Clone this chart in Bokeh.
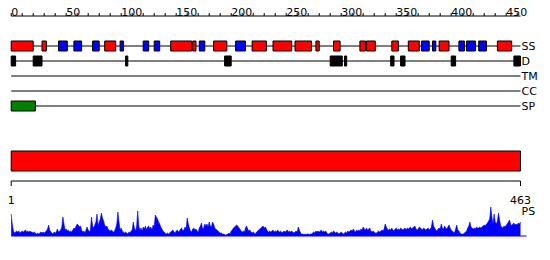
from bokeh.plotting import figure
from bokeh.models import Range1d
from bokeh.core.properties import value
from bokeh.embed import file_html
from bokeh.resources import INLINE

# ---------------- data ----------------
seq_length = 463
ruler_ticks = list(range(0, 461, 10))
ruler_label_pos = [0, 50, 100, 150, 200, 250, 300, 350, 400, 450]
ruler_labels = ["0", "50", "100", "150", "200", "250", "300", "350", "400", "450"]

track_names = ["SS", "D", "TM", "CC", "SP"]

helix_start = [0, 28, 85, 145, 165, 184, 219, 238, 258, 277, 293, 317, 323, 346, 361, 389, 442]
helix_end = [20, 32, 95, 164, 168, 196, 232, 255, 273, 280, 299, 322, 331, 352, 371, 398, 455]
strand_start = [43, 57, 74, 99, 120, 130, 171, 204, 373, 383, 407, 414, 425]
strand_end = [51, 64, 80, 102, 125, 135, 176, 213, 380, 386, 412, 422, 432]

disorder_start = [0, 20, 104, 194, 290, 303, 345, 354, 400, 457]
disorder_end = [4, 28, 106, 200, 301, 305, 348, 358, 404, 463]

signal_start = [0]
signal_end = [22]

domain_start = [0]
domain_end = [463]

ends_labels = ["1", "463"]
ends_pos = [0, 463]

# PS profile, one value per residue (0..463)
ps_val = [
    22, 12, 5, 3, 4, 5, 4, 5, 3, 4, 5, 4, 5, 6, 4, 5, 4, 5, 4, 4,
    3, 4, 3, 2, 3, 2, 3, 4, 3, 4, 3, 4, 5, 7, 11, 6, 4, 3, 2, 4,
    3, 4, 7, 4, 5, 6, 9, 19, 12, 6, 7, 5, 6, 4, 5, 4, 6, 8, 7, 10,
    12, 11, 9, 10, 6, 4, 5, 3, 6, 9, 6, 4, 6, 19, 10, 8, 11, 14, 22, 10,
    14, 17, 23, 18, 15, 11, 9, 10, 7, 6, 5, 6, 5, 4, 5, 8, 12, 24, 14, 6,
    8, 5, 4, 3, 4, 3, 2, 4, 3, 5, 6, 14, 8, 5, 9, 25, 10, 6, 8, 5,
    9, 7, 10, 6, 9, 10, 7, 9, 6, 11, 9, 21, 19, 17, 14, 12, 9, 7, 5, 4,
    3, 2, 3, 2, 3, 4, 5, 6, 4, 3, 5, 6, 4, 5, 7, 8, 5, 6, 9, 7,
    18, 12, 8, 5, 4, 7, 8, 6, 7, 5, 4, 8, 10, 13, 7, 8, 12, 10, 12, 9,
    14, 10, 9, 14, 12, 8, 7, 6, 5, 4, 3, 3, 2, 2, 1.5, 1, 1.5, 2, 3, 2,
    5, 6, 8, 9, 10, 11, 10, 8, 7, 5, 4, 5, 4, 8, 10, 7, 5, 6, 4, 3,
    4, 3, 2, 4, 5, 6, 7, 8, 9, 10, 8, 9, 7, 5, 4, 5, 4, 5, 6, 4,
    5, 4, 6, 5, 4, 5, 3, 4, 5, 4, 5, 6, 4, 5, 4, 5, 4, 3, 4, 5,
    4, 9, 6, 3, 2, 2, 1.5, 2, 1.5, 2, 2, 1.5, 2, 2, 3, 4, 3, 5, 4, 5,
    4, 5, 6, 4, 5, 4, 5, 3, 2, 2, 3, 4, 3, 5, 4, 3, 4, 3, 2, 3,
    4, 3, 2, 3, 4, 3, 5, 4, 5, 6, 5, 7, 5, 4, 6, 5, 6, 5, 7, 6,
    9, 7, 6, 8, 6, 7, 8, 5, 4, 5, 4, 3, 3, 4, 5, 4, 5, 6, 5, 7,
    12, 9, 7, 6, 7, 6, 8, 6, 5, 7, 8, 6, 7, 6, 8, 7, 6, 7, 8, 6,
    8, 7, 8, 9, 7, 8, 9, 10, 7, 6, 7, 9, 8, 7, 6, 8, 7, 6, 7, 8,
    6, 7, 9, 16, 10, 8, 6, 5, 7, 8, 7, 12, 8, 7, 10, 8, 7, 9, 11, 8,
    6, 5, 4, 3, 7, 11, 6, 5, 3, 2, 2, 2, 3, 4, 5, 8, 10, 14, 9, 8,
    7, 8, 7, 9, 8, 8, 9, 8, 9, 10, 11, 10, 12, 13, 15, 17, 29, 19, 12, 22,
    14, 12, 15, 23, 16, 10, 9, 8, 10, 9, 11, 12, 14, 16, 12, 10, 12, 13, 11, 12,
    11, 13, 12, 14,
]
ps_pos = list(range(len(ps_val)))

# ---------------- figure ----------------
FONT = value("DejaVu Sans")
FSIZE = "11px"
RED = "#FF0000"
BLUE = "#0000FF"
GREEN = "#008000"

p = figure(width=550, height=260, x_range=Range1d(-10.7 / 1.1, (550 - 10.7) / 1.1),
           y_range=Range1d(260, 0), output_backend="svg", toolbar_location=None,
           min_border=0, x_axis_location=None, y_axis_location=None)
p.grid.visible = False
p.outline_line_color = None
p.background_fill_color = "white"
p.border_fill_color = "white"

# top ruler
ruler_y = 15.5
p.segment(x0=[0], y0=[ruler_y], x1=[seq_length], y1=[ruler_y], line_color="black", line_width=1)
p.segment(x0=ruler_ticks, y0=[ruler_y] * len(ruler_ticks), x1=ruler_ticks,
          y1=[12.5] * len(ruler_ticks), line_color="black", line_width=1)
p.text(x=ruler_label_pos, y=[11.5] * len(ruler_label_pos), text=ruler_labels,
       text_font=FONT, text_font_size=FSIZE, text_align="left",
       text_baseline="alphabetic", text_color="black")

# track lines
track_y = [45.5, 60.5, 75.5, 90.5, 105.5]
for ty in track_y:
    p.segment(x0=[0], y0=[ty], x1=[seq_length], y1=[ty], line_color="black", line_width=1)
p.text(x=[seq_length] * len(track_names), y=track_y, text=track_names,
       text_font=FONT, text_font_size=FSIZE, text_align="left",
       text_baseline="middle", x_offset=1, text_color="black")

# SS
p.quad(left=helix_start, right=helix_end, top=[40.5] * len(helix_start),
       bottom=[50.5] * len(helix_start), fill_color=RED, line_color="black", line_width=1)
p.quad(left=strand_start, right=strand_end, top=[40.5] * len(strand_start),
       bottom=[50.5] * len(strand_start), fill_color=BLUE, line_color="black", line_width=1)
# disorder
p.quad(left=disorder_start, right=disorder_end, top=[55.5] * len(disorder_start),
       bottom=[65.5] * len(disorder_start), fill_color="black", line_color="black", line_width=1)
# signal peptide
p.quad(left=signal_start, right=signal_end, top=[100.5] * len(signal_start),
       bottom=[110.5] * len(signal_start), fill_color=GREEN, line_color="black", line_width=1)

# domain bar
p.quad(left=domain_start, right=domain_end, top=[150.5], bottom=[170.5],
       fill_color=RED, line_color="black", line_width=1)

# bottom ruler
p.segment(x0=[0], y0=[180.5], x1=[seq_length], y1=[180.5], line_color="black", line_width=1)
p.segment(x0=ends_pos, y0=[180.5, 180.5], x1=ends_pos, y1=[185.5, 185.5],
          line_color="black", line_width=1)
p.text(x=ends_pos, y=[199.5, 199.5], text=ends_labels, text_font=FONT, text_font_size=FSIZE,
       text_align="center", text_baseline="alphabetic", text_color="black")

# PS profile
base = 235.5
p.varea(x=ps_pos, y1=[base] * len(ps_pos), y2=[base - v for v in ps_val],
        fill_color=BLUE)
p.line(x=ps_pos, y=[base - v for v in ps_val], line_color=BLUE, line_width=0.6)
p.segment(x0=[0], y0=[base], x1=[seq_length + 5.5], y1=[base], line_color=BLUE, line_width=1)
p.text(x=[seq_length], y=[211], text=["PS"], text_font=FONT, text_font_size=FSIZE,
       text_align="left", text_baseline="middle", x_offset=1, text_color="black")

open("out.html", "w").write(file_html(p, INLINE))
